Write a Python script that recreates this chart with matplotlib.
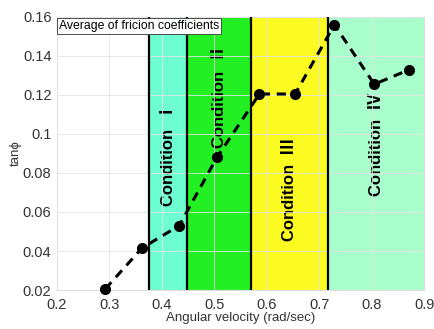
import matplotlib
matplotlib.use("Agg")
import matplotlib.pyplot as plt

plt.rcParams["font.family"] = ["Liberation Sans", "Noto Sans CJK JP", "DejaVu Sans"]

# data
omega = [0.292, 0.362, 0.433, 0.505, 0.586, 0.654, 0.729, 0.805, 0.872]
tanphi = [0.0205, 0.0415, 0.053, 0.088, 0.1205, 0.1205, 0.156, 0.1255, 0.133]

bounds = [0.376, 0.448, 0.570, 0.717, 0.9]
region_colors = ["#6dffcf", "#22f022", "#fbfb22", "#a8ffcc"]
region_labels = ["Condition  Ⅰ", "Condition  Ⅱ", "Condition  Ⅲ", "Condition  Ⅳ"]
label_y = [0.0895, 0.1195, 0.0715, 0.0945]

fig = plt.figure(figsize=(4.35, 3.29), dpi=100)
ax = fig.add_axes([0.131, 0.1185, 0.844, 0.83])

for k in range(4):
    ax.axvspan(bounds[k], bounds[k + 1], color=region_colors[k], lw=0, zorder=0)
    ax.text((bounds[k] + bounds[k + 1]) / 2, label_y[k], region_labels[k],
            rotation=90, ha="center", va="center", fontsize=12,
            fontweight="bold", zorder=2)
for b in bounds[:4]:
    ax.axvline(b, color="k", lw=1.6, zorder=3)

ax.plot(omega, tanphi, "k--", lw=2.2, dashes=(3, 2.2), marker="o", ms=7,
        zorder=4, clip_on=False)

ax.text(0.203, 0.1585, "Average of fricion coefficients", fontsize=8.8, va="top", ha="left",
        bbox=dict(facecolor="white", edgecolor="#333333", lw=0.6, pad=1.2), zorder=5)

ax.set_xlim(0.2, 0.9)
ax.set_ylim(0.02, 0.16)
ax.set_xticks([0.2, 0.3, 0.4, 0.5, 0.6, 0.7, 0.8, 0.9])
ax.set_xticklabels(["0.2", "0.3", "0.4", "0.5", "0.6", "0.7", "0.8", "0.9"])
ax.set_yticks([0.02, 0.04, 0.06, 0.08, 0.1, 0.12, 0.14, 0.16])
ax.set_yticklabels(["0.02", "0.04", "0.06", "0.08", "0.1", "0.12", "0.14", "0.16"])
ax.grid(True, color="#e4e4e4", lw=0.6, zorder=1)
ax.set_axisbelow(False)
for s in ax.spines.values():
    s.set_color("#dddddd")
ax.tick_params(length=0, labelsize=10.5, colors="#333333")
ax.tick_params(axis="x", pad=6)
ax.tick_params(axis="y", pad=4)
ax.set_xlabel("Angular velocity (rad/sec)", fontsize=9.5, color="#333333", labelpad=0)
ax.set_ylabel("tanϕ", fontsize=9.5, color="#333333", labelpad=1)

fig.savefig("out.png", dpi=100)
